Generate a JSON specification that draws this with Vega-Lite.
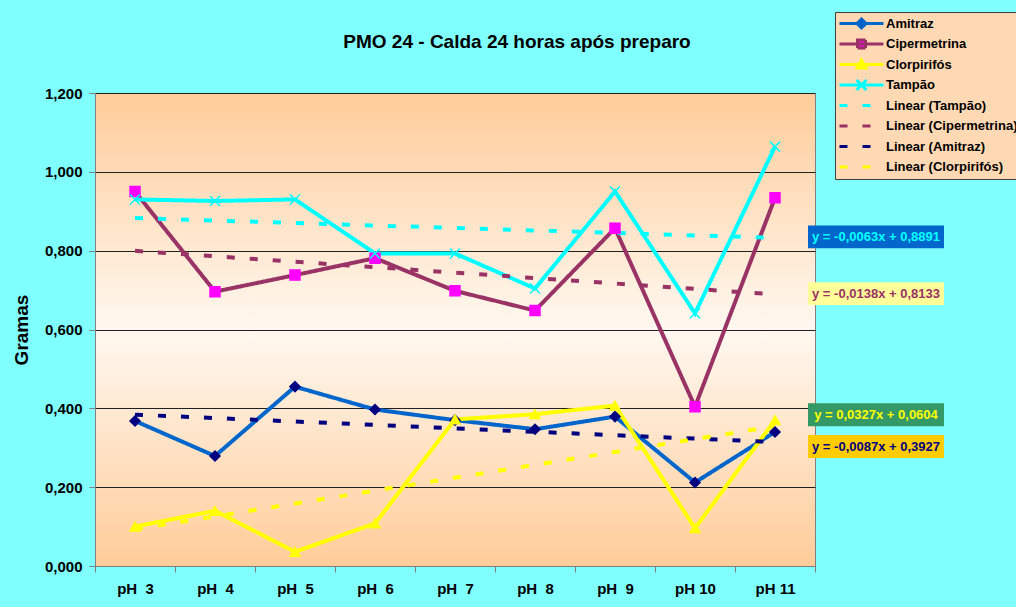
{
  "$schema": "https://vega.github.io/schema/vega-lite/v6.json",
  "width": 720,
  "height": 473,
  "autosize": {"type": "none"},
  "padding": {"left": 95, "top": 93, "right": 201, "bottom": 41},
  "background": "#80FFFF",
  "config": {
    "font": "Liberation Sans",
    "view": {
      "stroke": "#808080",
      "strokeWidth": 1,
      "fill": {"gradient": "linear", "x1": 0, "y1": 0, "x2": 0, "y2": 1,
        "stops": [{"offset": 0, "color": "#FFCC99"}, {"offset": 0.5, "color": "#FFF8F0"}, {"offset": 1, "color": "#FFCC99"}]}
    }
  },
  "title": {"text": "PMO 24 - Calda 24 horas após preparo", "fontSize": 19, "fontWeight": "bold", "color": "#000000", "anchor": "middle", "frame": "group", "dx": 62, "offset": -40},
  "datasets": {
    "series": [
      {"series": "Amitraz", "ph": "pH\u00a0 3", "value": 0.368},
      {"series": "Amitraz", "ph": "pH\u00a0 4", "value": 0.279},
      {"series": "Amitraz", "ph": "pH\u00a0 5", "value": 0.455},
      {"series": "Amitraz", "ph": "pH\u00a0 6", "value": 0.397},
      {"series": "Amitraz", "ph": "pH\u00a0 7", "value": 0.370},
      {"series": "Amitraz", "ph": "pH\u00a0 8", "value": 0.347},
      {"series": "Amitraz", "ph": "pH\u00a0 9", "value": 0.379},
      {"series": "Amitraz", "ph": "pH 10", "value": 0.212},
      {"series": "Amitraz", "ph": "pH 11", "value": 0.340},
      {"series": "Cipermetrina", "ph": "pH\u00a0 3", "value": 0.950},
      {"series": "Cipermetrina", "ph": "pH\u00a0 4", "value": 0.696},
      {"series": "Cipermetrina", "ph": "pH\u00a0 5", "value": 0.738},
      {"series": "Cipermetrina", "ph": "pH\u00a0 6", "value": 0.781},
      {"series": "Cipermetrina", "ph": "pH\u00a0 7", "value": 0.698},
      {"series": "Cipermetrina", "ph": "pH\u00a0 8", "value": 0.648},
      {"series": "Cipermetrina", "ph": "pH\u00a0 9", "value": 0.857},
      {"series": "Cipermetrina", "ph": "pH 10", "value": 0.404},
      {"series": "Cipermetrina", "ph": "pH 11", "value": 0.934},
      {"series": "Clorpirifós", "ph": "pH\u00a0 3", "value": 0.100},
      {"series": "Clorpirifós", "ph": "pH\u00a0 4", "value": 0.140},
      {"series": "Clorpirifós", "ph": "pH\u00a0 5", "value": 0.036},
      {"series": "Clorpirifós", "ph": "pH\u00a0 6", "value": 0.108},
      {"series": "Clorpirifós", "ph": "pH\u00a0 7", "value": 0.372},
      {"series": "Clorpirifós", "ph": "pH\u00a0 8", "value": 0.385},
      {"series": "Clorpirifós", "ph": "pH\u00a0 9", "value": 0.407},
      {"series": "Clorpirifós", "ph": "pH 10", "value": 0.096},
      {"series": "Clorpirifós", "ph": "pH 11", "value": 0.370},
      {"series": "Tampão", "ph": "pH\u00a0 3", "value": 0.930},
      {"series": "Tampão", "ph": "pH\u00a0 4", "value": 0.926},
      {"series": "Tampão", "ph": "pH\u00a0 5", "value": 0.930},
      {"series": "Tampão", "ph": "pH\u00a0 6", "value": 0.793},
      {"series": "Tampão", "ph": "pH\u00a0 7", "value": 0.793},
      {"series": "Tampão", "ph": "pH\u00a0 8", "value": 0.704},
      {"series": "Tampão", "ph": "pH\u00a0 9", "value": 0.950},
      {"series": "Tampão", "ph": "pH 10", "value": 0.641},
      {"series": "Tampão", "ph": "pH 11", "value": 1.064},
      {"series": "Linear (Tampão)", "ph": "pH\u00a0 3", "value": 0.8828},
      {"series": "Linear (Tampão)", "ph": "pH 11", "value": 0.8324},
      {"series": "Linear (Cipermetrina)", "ph": "pH\u00a0 3", "value": 0.7995},
      {"series": "Linear (Cipermetrina)", "ph": "pH 11", "value": 0.6891},
      {"series": "Linear (Amitraz)", "ph": "pH\u00a0 3", "value": 0.3840},
      {"series": "Linear (Amitraz)", "ph": "pH 11", "value": 0.3144},
      {"series": "Linear (Clorpirifós)", "ph": "pH\u00a0 3", "value": 0.0931},
      {"series": "Linear (Clorpirifós)", "ph": "pH 11", "value": 0.3547}
    ],
    "labels": [
      {"series": "Tampão", "ph": "pH 11", "value": 0.835, "label": "y = -0,0063x + 0,8891"},
      {"series": "Cipermetrina", "ph": "pH 11", "value": 0.691, "label": "y = -0,0138x + 0,8133"},
      {"series": "Clorpirifós", "ph": "pH 11", "value": 0.384, "label": "y = 0,0327x + 0,0604"},
      {"series": "Amitraz", "ph": "pH 11", "value": 0.303, "label": "y = -0,0087x + 0,3927"}
    ]
  },
  "layer": [
    {
      "data": {"name": "series"},
      "mark": {"type": "line", "strokeWidth": 4},
      "encoding": {
        "x": {
          "field": "ph", "type": "nominal",
          "scale": {"type": "band", "domain": ["pH\u00a0 3", "pH\u00a0 4", "pH\u00a0 5", "pH\u00a0 6", "pH\u00a0 7", "pH\u00a0 8", "pH\u00a0 9", "pH 10", "pH 11"], "paddingInner": 0, "paddingOuter": 0},
          "axis": {"title": null, "labelAngle": 0, "labelFontSize": 15, "labelFontWeight": "bold", "labelColor": "#000000", "tickBand": "extent", "tickSize": 6, "tickColor": "#808080", "domainColor": "#808080", "labelPadding": 9, "grid": false}
        },
        "y": {
          "field": "value", "type": "quantitative",
          "scale": {"domain": [0, 1.2], "nice": false},
          "axis": {"values": [0, 0.2, 0.4, 0.6, 0.8, 1.0, 1.2], "labelExpr": "replace(format(datum.value,'.3f'),'.',',')", "labelFontSize": 15, "labelFontWeight": "bold", "labelColor": "#000000", "title": "Gramas", "titleFontSize": 19, "titleFontWeight": "bold", "titleColor": "#000000", "titlePadding": 13, "grid": true, "gridColor": "#202020", "gridOpacity": 1, "tickSize": 6, "tickColor": "#808080", "domainColor": "#808080", "labelPadding": 7}
        },
        "color": {
          "field": "series", "type": "nominal",
          "scale": {
            "domain": ["Amitraz", "Cipermetrina", "Clorpirifós", "Tampão", "Linear (Tampão)", "Linear (Cipermetrina)", "Linear (Amitraz)", "Linear (Clorpirifós)"],
            "range": ["#0066CC", "#993366", "#FFFF00", "#00FFFF", "#00FFFF", "#993366", "#000080", "#FFFF00"]
          },
          "legend": {
            "title": null, "orient": "none", "legendX": 740, "legendY": -81, "direction": "vertical",
            "fillColor": "#FFD9B3", "strokeColor": "#404040", "padding": 5,
            "labelFontSize": 13, "labelFontWeight": "bold", "labelColor": "#000000", "labelLimit": 300,
            "symbolSize": 100, "symbolStrokeWidth": 3, "labelOffset": 33, "rowPadding": -2.5, "gridAlign": "all",
            "encode": {
              "symbols": {
                "update": {
                  "shape": {"signal": "datum.value==='Amitraz' ? 'M-1.4,0L7.4,0M3,-0.9L3.9,0L3,0.9L2.1,0Z' : datum.value==='Cipermetrina' ? 'M-1.4,0L7.4,0M2.2,-0.8L3.8,-0.8L3.8,0.8L2.2,0.8Z' : datum.value==='Clorpirifós' ? 'M-1.4,0L7.4,0M3,-0.9L3.9,0.7L2.1,0.7Z' : datum.value==='Tampão' ? 'M-1.4,0L7.4,0M2,-1L4,1M4,-1L2,1' : 'M-1.4,0L7.4,0'"},
                  "fill": {"signal": "datum.value==='Amitraz' ? '#000080' : datum.value==='Cipermetrina' ? '#FF00FF' : datum.value==='Clorpirifós' ? '#FFFF00' : 'transparent'"}
                }
              }
            }
          }
        },
        "strokeDash": {
          "field": "series", "type": "nominal",
          "scale": {
            "domain": ["Amitraz", "Cipermetrina", "Clorpirifós", "Tampão", "Linear (Tampão)", "Linear (Cipermetrina)", "Linear (Amitraz)", "Linear (Clorpirifós)"],
            "range": [[1, 0], [1, 0], [1, 0], [1, 0], [8, 15], [8, 15], [8, 15], [8, 15]]
          },
          "legend": {"title": null}
        }
      }
    },
    {
      "data": {"name": "series"},
      "transform": [{"filter": {"field": "series", "oneOf": ["Amitraz", "Cipermetrina", "Clorpirifós", "Tampão"]}}],
      "mark": {"type": "point", "filled": true, "size": 100, "strokeWidth": 1.5, "opacity": 1},
      "encoding": {
        "x": {"field": "ph", "type": "nominal"},
        "y": {"field": "value", "type": "quantitative"},
        "shape": {"field": "series", "type": "nominal", "scale": {"domain": ["Amitraz", "Cipermetrina", "Clorpirifós", "Tampão"], "range": ["diamond", "square", "triangle-up", "M-1,-1L1,1M1,-1L-1,1"]}, "legend": null},
        "fill": {"field": "series", "type": "nominal", "scale": {"domain": ["Amitraz", "Cipermetrina", "Clorpirifós", "Tampão"], "range": ["#000080", "#FF00FF", "#FFFF00", "transparent"]}, "legend": null},
        "stroke": {"field": "series", "type": "nominal", "scale": {"domain": ["Amitraz", "Cipermetrina", "Clorpirifós", "Tampão"], "range": ["#000080", "#FF00FF", "#FFFF00", "#00FFFF"]}, "legend": null}
      }
    },
    {
      "data": {"name": "labels"},
      "mark": {"type": "point", "filled": true, "shape": "M-1,-0.169L1,-0.169L1,0.169L-1,0.169Z", "size": 18496, "xOffset": 101, "opacity": 1, "strokeWidth": 0},
      "encoding": {
        "x": {"field": "ph", "type": "nominal"},
        "y": {"field": "value", "type": "quantitative"},
        "fill": {"condition": [{"test": "datum.series==='Tampão'", "value": "#0066CC"}, {"test": "datum.series==='Cipermetrina'", "value": "#FFFF99"}, {"test": "datum.series==='Clorpirifós'", "value": "#339966"}], "value": "#FFCC00"}
      }
    },
    {
      "data": {"name": "labels"},
      "mark": {"type": "text", "fontSize": 13, "fontWeight": "bold", "xOffset": 101, "align": "center", "baseline": "middle"},
      "encoding": {
        "x": {"field": "ph", "type": "nominal"},
        "y": {"field": "value", "type": "quantitative"},
        "text": {"field": "label"},
        "color": {"condition": [{"test": "datum.series==='Tampão'", "value": "#00FFFF"}, {"test": "datum.series==='Cipermetrina'", "value": "#993366"}, {"test": "datum.series==='Clorpirifós'", "value": "#FFFF00"}], "value": "#000080"}
      }
    }
  ]
}
